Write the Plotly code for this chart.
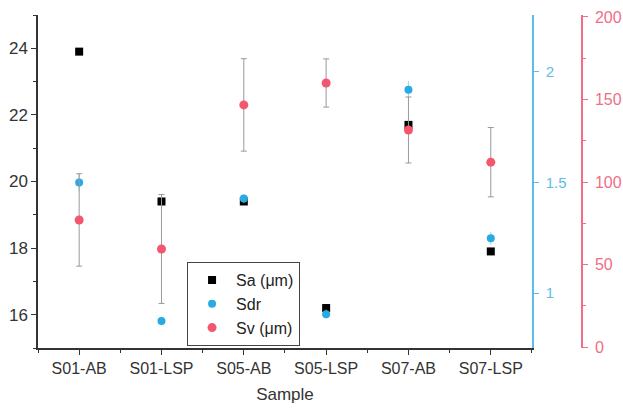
import plotly.graph_objects as go

samples = ["S01-AB", "S01-LSP", "S05-AB", "S05-LSP", "S07-AB", "S07-LSP"]
sa = [23.9, 19.4, 19.4, 16.2, 21.7, 17.9]
sa_err = [0.0, 0.0, 0.0, 0.1, 0.0, 0.0]
sdr = [1.50, 0.874, 1.428, 0.905, 1.919, 1.248]
sdr_err = [0.04, 0.02, 0.02, 0.02, 0.04, 0.03]
sv = [77, 59.4, 146.7, 160, 131.5, 112]
sv_err = [28, 33, 28, 14.6, 20, 21]

x = list(range(len(samples)))

BLUE = "#29aae2"
RED = "#f4566f"
BLUE_AX = "#5bbde8"
RED_AX = "#f26d85"
FONT = "Liberation Sans, Arial, sans-serif"

fig = go.Figure()
fig.add_trace(go.Scatter(
    x=x, y=sa, mode="markers", name="Sa (μm)",
    marker=dict(symbol="square", size=8, color="black"),
    error_y=dict(type="data", array=sa_err, color="#888", thickness=1, width=3),
    yaxis="y"))
fig.add_trace(go.Scatter(
    x=x, y=sdr, mode="markers", name="Sdr",
    marker=dict(symbol="circle", size=8, color=BLUE),
    error_y=dict(type="data", array=sdr_err, color="#9fd6f0", thickness=1, width=0),
    yaxis="y2"))
fig.add_trace(go.Scatter(
    x=x, y=sv, mode="markers", name="Sv (μm)",
    marker=dict(symbol="circle", size=9, color=RED),
    error_y=dict(type="data", array=sv_err, color="#999", thickness=1, width=3),
    yaxis="y3"))

fig.update_layout(
    width=623, height=410,
    margin=dict(l=38, r=41, t=15, b=62, autoexpand=False),
    paper_bgcolor="white", plot_bgcolor="white",
    font=dict(family=FONT, size=14, color="#333"),
    showlegend=True,
    legend=dict(x=0.274, y=0.258, xanchor="left", yanchor="top",
                bordercolor="#444", borderwidth=1, bgcolor="white",
                font=dict(size=16, color="#222"), itemwidth=38,
                tracegroupgap=0),
    xaxis=dict(domain=[0, 0.908], range=[-0.5, 5.5], automargin=False,
               tickvals=x, ticktext=samples,
               showline=True, linecolor="#333", linewidth=1.5,
               ticks="outside", ticklen=5, tickcolor="#333",
               minor=dict(tickvals=[i - 0.5 for i in range(len(samples) + 1)],
                          ticks="outside", ticklen=3, tickcolor="#333"),
               showgrid=False, zeroline=False,
               title=dict(text="Sample", font=dict(size=17, color="#333"), standoff=12),
               tickfont=dict(size=16, color="#333")),
    yaxis=dict(range=[15, 25], tickvals=[16, 18, 20, 22, 24], automargin=False,
               showline=True, linecolor="#333", linewidth=1.5,
               ticks="outside", ticklen=5, tickcolor="#333",
               minor=dict(tickvals=[15, 17, 19, 21, 23, 25], ticks="outside",
                          ticklen=3, tickcolor="#333"),
               showgrid=False, zeroline=False,
               tickfont=dict(size=17, color="#333")),
    yaxis2=dict(range=[0.752, 2.257], tickvals=[1, 1.5, 2], ticktext=["1", "1.5", "2"],
                overlaying="y", side="right", anchor="x", automargin=False,
                showline=True, linecolor=BLUE_AX, linewidth=1.5,
                ticks="outside", ticklen=5, tickcolor=BLUE_AX,
                ticklabelstandoff=4,
                showgrid=False, zeroline=False,
                tickfont=dict(size=15, color=BLUE_AX)),
    yaxis3=dict(range=[-0.6, 201.2], tickvals=[0, 50, 100, 150, 200],
                overlaying="y", side="right", anchor="free", position=1.0,
                automargin=False,
                showline=True, linecolor=RED_AX, linewidth=1.5,
                ticks="outside", ticklen=5, tickcolor=RED_AX,
                ticklabelstandoff=4,
                minor=dict(tickvals=[25, 75, 125, 175], ticks="outside",
                           ticklen=3, tickcolor=RED_AX),
                showgrid=False, zeroline=False,
                tickfont=dict(size=16, color=RED_AX)),
)

fig.write_html("out.html")
